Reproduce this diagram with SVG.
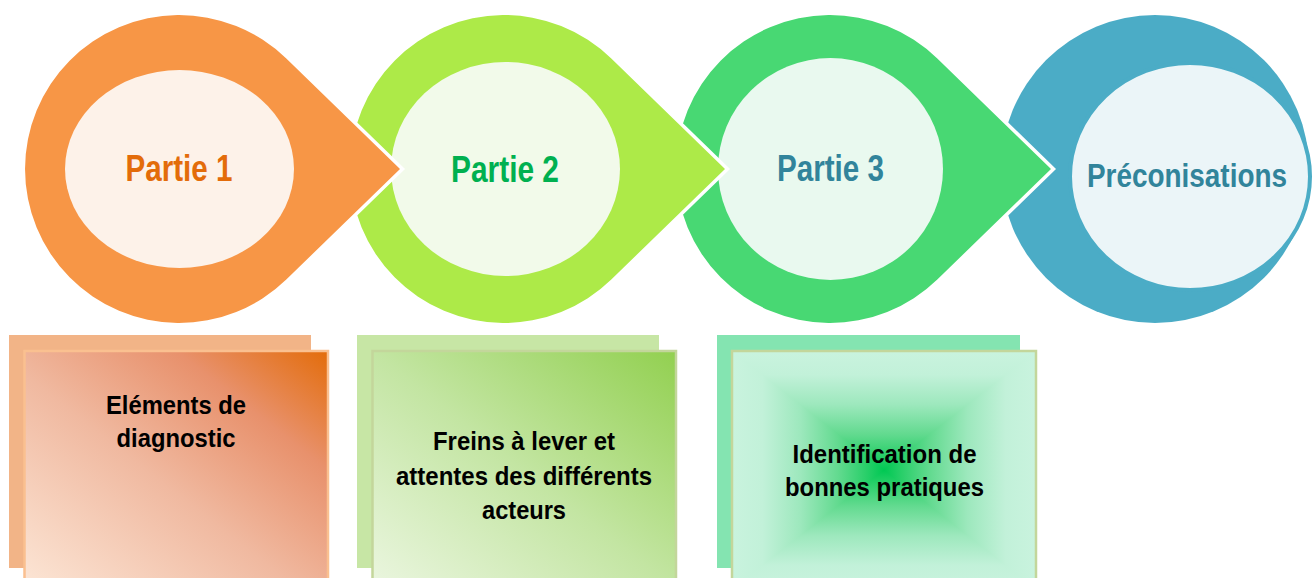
<svg xmlns="http://www.w3.org/2000/svg" width="1314" height="578" viewBox="0 0 1314 578">
  <defs>
    <style>
      .drop { stroke: #ffffff; stroke-width: 7; stroke-linejoin: miter; stroke-miterlimit: 10; paint-order: stroke; }
      .title { font-family: "Liberation Sans Narrow", "Liberation Sans", Arial, sans-serif; font-weight: bold; text-anchor: middle; }
      .big { font-size: 37px; }
      .label { font-size: 26px; fill: #000000; }
    </style>
    <linearGradient id="gOrange" x1="0" y1="1" x2="1" y2="0">
      <stop offset="0" stop-color="#FCE6D6"/>
      <stop offset="0.45" stop-color="#F0B9A0"/>
      <stop offset="0.75" stop-color="#E8916C"/>
      <stop offset="1" stop-color="#E36C0A"/>
    </linearGradient>
    <linearGradient id="gLime" x1="0" y1="1" x2="1" y2="0">
      <stop offset="0" stop-color="#EBF6E0"/>
      <stop offset="0.5" stop-color="#C3E5A2"/>
      <stop offset="1" stop-color="#92D050"/>
    </linearGradient>
    <!-- rectangular path gradient built from a horizontal band and two vertical triangles -->
    <linearGradient id="gMintH" gradientUnits="userSpaceOnUse" x1="732" y1="0" x2="1036" y2="0">
      <stop offset="0" stop-color="#C9F3DE"/>
      <stop offset="0.1" stop-color="#C2F1D9"/>
      <stop offset="0.225" stop-color="#9DE8BD"/>
      <stop offset="0.35" stop-color="#62DA8F"/>
      <stop offset="0.44" stop-color="#2ACF6A"/>
      <stop offset="0.5" stop-color="#00C853"/>
      <stop offset="0.56" stop-color="#2ACF6A"/>
      <stop offset="0.65" stop-color="#62DA8F"/>
      <stop offset="0.775" stop-color="#9DE8BD"/>
      <stop offset="0.9" stop-color="#C2F1D9"/>
      <stop offset="1" stop-color="#C9F3DE"/>
    </linearGradient>
    <linearGradient id="gMintV" gradientUnits="userSpaceOnUse" x1="0" y1="351" x2="0" y2="589">
      <stop offset="0" stop-color="#C9F3DE"/>
      <stop offset="0.1" stop-color="#C2F1D9"/>
      <stop offset="0.225" stop-color="#9DE8BD"/>
      <stop offset="0.35" stop-color="#62DA8F"/>
      <stop offset="0.44" stop-color="#2ACF6A"/>
      <stop offset="0.5" stop-color="#00C853"/>
      <stop offset="0.56" stop-color="#2ACF6A"/>
      <stop offset="0.65" stop-color="#62DA8F"/>
      <stop offset="0.775" stop-color="#9DE8BD"/>
      <stop offset="0.9" stop-color="#C2F1D9"/>
      <stop offset="1" stop-color="#C9F3DE"/>
    </linearGradient>
  </defs>

  <!-- final step: recommendations -->
  <g id="preconisations">
    <circle cx="1155" cy="169" r="154" fill="#4BACC6"/>
    <ellipse cx="1190" cy="176.5" rx="120" ry="113.5" fill="#EBF5F8" stroke="#4BACC6" stroke-width="4"/>
    <text class="title" x="1187" y="187" font-size="33" fill="#31849B" textLength="200" lengthAdjust="spacingAndGlyphs">Préconisations</text>
  </g>

  <!-- teardrop steps, drawn right to left so each tip overlaps the next circle -->
  <g id="partie3">
    <path class="drop" fill="#48D873" d="M937.3,58.5 L1051,169 L937.3,279.5 A154,154 0 1 1 937.3,58.5 Z"/>
    <ellipse cx="830.5" cy="169" rx="112.5" ry="111" fill="#E9F9EF"/>
    <text class="title big" x="830.5" y="181" fill="#31849B" textLength="107" lengthAdjust="spacingAndGlyphs">Partie 3</text>
  </g>

  <g id="partie2">
    <path class="drop" fill="#ADEA48" d="M611.3,58.5 L725,169 L611.3,279.5 A154,154 0 1 1 611.3,58.5 Z"/>
    <ellipse cx="505.5" cy="169" rx="114.5" ry="107" fill="#F2FAEA"/>
    <text class="title big" x="505" y="181.5" fill="#00B050" textLength="108" lengthAdjust="spacingAndGlyphs">Partie 2</text>
  </g>

  <g id="partie1">
    <path class="drop" fill="#F79646" d="M286.3,58.5 L400,169 L286.3,279.5 A154,154 0 1 1 286.3,58.5 Z"/>
    <ellipse cx="179.5" cy="169" rx="114.5" ry="99" fill="#FDF2E9"/>
    <text class="title big" x="179" y="181" fill="#E36C0A" textLength="107" lengthAdjust="spacingAndGlyphs">Partie 1</text>
  </g>

  <!-- content cards -->
  <g id="card1">
    <rect x="9" y="335" width="302" height="233" fill="#F2B487"/>
    <rect x="24.5" y="351" width="303.5" height="238" fill="url(#gOrange)" stroke="#FAC090" stroke-width="2.5"/>
    <text class="title label" x="176" y="413.5" textLength="140" lengthAdjust="spacingAndGlyphs">Eléments de</text>
    <text class="title label" x="176" y="447" textLength="119" lengthAdjust="spacingAndGlyphs">diagnostic</text>
  </g>

  <g id="card2">
    <rect x="357" y="335" width="302" height="233" fill="#C7E6A5"/>
    <rect x="372.5" y="351" width="303.5" height="238" fill="url(#gLime)" stroke="#C3D69B" stroke-width="2.5"/>
    <text class="title label" x="524" y="450" textLength="182" lengthAdjust="spacingAndGlyphs">Freins à lever et</text>
    <text class="title label" x="524" y="484.5" textLength="256" lengthAdjust="spacingAndGlyphs">attentes des différents</text>
    <text class="title label" x="524" y="518.5" textLength="84" lengthAdjust="spacingAndGlyphs">acteurs</text>
  </g>

  <g id="card3">
    <rect x="717" y="335" width="303" height="233" fill="#84E4B1"/>
    <rect x="732" y="351" width="304" height="238" fill="url(#gMintH)"/>
    <polygon points="732,351 1036,351 884,470" fill="url(#gMintV)"/>
    <polygon points="732,589 1036,589 884,470" fill="url(#gMintV)"/>
    <rect x="732" y="351" width="304" height="238" fill="none" stroke="#C3D69B" stroke-width="2.5"/>
    <text class="title label" x="884.5" y="463" textLength="184" lengthAdjust="spacingAndGlyphs">Identification de</text>
    <text class="title label" x="884.5" y="496" textLength="199" lengthAdjust="spacingAndGlyphs">bonnes pratiques</text>
  </g>

  <g id="connectors"/>
</svg>
